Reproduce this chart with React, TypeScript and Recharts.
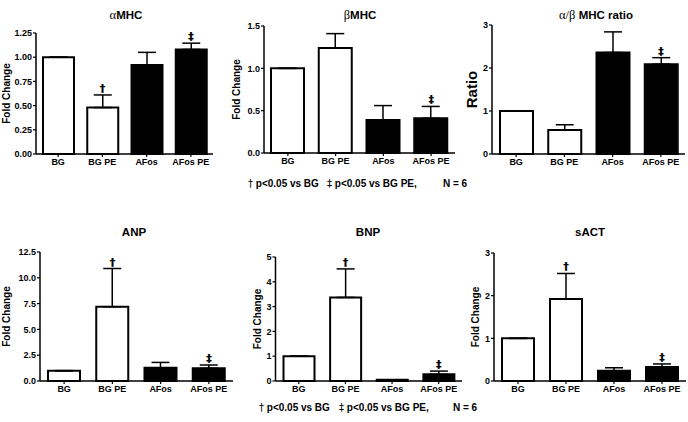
import { BarChart, Bar, XAxis, YAxis, ErrorBar, Cell, ReferenceDot } from 'recharts';
import type { ReactNode } from 'react';

const groups = ['BG', 'BG PE', 'AFos', 'AFos PE'];

const aMhcMean = [1.0, 0.48, 0.92, 1.08];
const aMhcErr = [0, 0.13, 0.13, 0.065];
const aMhcMarks = ['', '†', '', '‡'];
const aMhcTicks = [0, 0.25, 0.5, 0.75, 1.0, 1.25];

const bMhcMean = [1.0, 1.24, 0.39, 0.41];
const bMhcErr = [0, 0.17, 0.17, 0.14];
const bMhcMarks = ['', '', '', '‡'];
const bMhcTicks = [0, 0.5, 1.0, 1.5];

const ratioMean = [1.0, 0.56, 2.36, 2.09];
const ratioErr = [0, 0.12, 0.48, 0.15];
const ratioMarks = ['', '', '', '‡'];
const ratioTicks = [0, 1, 2, 3];

const anpMean = [1.0, 7.2, 1.28, 1.23];
const anpErr = [0, 3.7, 0.52, 0.32];
const anpMarks = ['', '†', '', '‡'];
const anpTicks = [0, 2.5, 5.0, 7.5, 10.0, 12.5];

const bnpMean = [1.0, 3.37, 0.05, 0.27];
const bnpErr = [0, 1.15, 0, 0.13];
const bnpMarks = ['', '†', '', '‡'];
const bnpTicks = [0, 1, 2, 3, 4, 5];

const sactMean = [1.0, 1.92, 0.24, 0.33];
const sactErr = [0, 0.6, 0.07, 0.07];
const sactMarks = ['', '†', '', '‡'];
const sactTicks = [0, 1, 2, 3];

const FONT = '"Liberation Sans", Arial, Helvetica, sans-serif';
const GREEK = '"Liberation Serif", "DejaVu Serif", serif';
const MARK_FONT = '"DejaVu Sans", "Liberation Sans", sans-serif';

interface PanelProps {
  title: ReactNode;
  titleX: number;
  titleY: number;
  mean: number[];
  err: number[];
  marks: string[];
  ticks: number[];
  decimals: number;
  yLabel: string;
  yLabelX: number;
  yLabelSize: number;
  left: number;
  plotLeft: number;
  plotRight: number;
  plotTop: number;
  plotBottom: number;
  barSize: number;
}

// significance sign drawn just above the error-bar cap
const markLabel = (text: string) => (lp: any) => {
  const vb = lp.viewBox || {};
  const cx = (vb.x ?? 0) + (vb.width ?? 0) / 2;
  const cy = vb.y ?? 0;
  return (
    <text
      x={cx}
      y={cy - 3}
      textAnchor="middle"
      fill="#000"
      stroke="#000"
      strokeWidth={0.2}
      fontSize={11}
      fontWeight={700}
      fontFamily={MARK_FONT}
    >
      {text}
    </text>
  );
};

function Panel(p: PanelProps) {
  const data = groups.map((g, i) => ({ group: g, mean: p.mean[i], err: [0, p.err[i]] }));
  const padTop = 8;
  const padBottom = 22;
  const width = p.plotRight - p.left + 2;
  const height = p.plotBottom - p.plotTop + padTop + padBottom;
  const ymax = p.ticks[p.ticks.length - 1];

  return (
    <>
      <div
        style={{
          position: 'absolute',
          left: p.titleX,
          top: p.titleY,
          transform: 'translate(-50%, -50%)',
          fontFamily: FONT,
          fontWeight: 700,
          fontSize: 11.5,
          whiteSpace: 'nowrap',
          color: '#000',
        }}
      >
        {p.title}
      </div>
      <div style={{ position: 'absolute', left: p.left, top: p.plotTop - padTop }}>
        <BarChart
          width={width}
          height={height}
          data={data}
          margin={{ top: padTop, right: 2, bottom: 0, left: 0 }}
        >
          <XAxis
            dataKey="group"
            height={padBottom}
            tickSize={3}
            tickMargin={2}
            axisLine={{ stroke: '#000', strokeWidth: 1.5 }}
            tickLine={{ stroke: '#000', strokeWidth: 1.2 }}
            tick={{ fill: '#000', fontSize: 9, fontWeight: 700, fontFamily: FONT }}
            interval={0}
          />
          <YAxis
            width={p.plotLeft - p.left}
            domain={[0, ymax]}
            ticks={p.ticks}
            tickFormatter={(v: number) => v.toFixed(p.decimals)}
            tickSize={3}
            tickMargin={1}
            axisLine={{ stroke: '#000', strokeWidth: 1.5 }}
            tickLine={{ stroke: '#000', strokeWidth: 1.2 }}
            tick={{ fill: '#000', fontSize: 9, fontWeight: 700, fontFamily: FONT }}
            label={{
              value: p.yLabel,
              angle: -90,
              position: 'insideLeft',
              offset: p.yLabelX - p.left,
              style: {
                textAnchor: 'middle',
                fontSize: p.yLabelSize,
                fontWeight: 700,
                fill: '#000',
                fontFamily: FONT,
              },
            }}
          />
          <Bar
            dataKey="mean"
            barSize={p.barSize}
            stroke="#000"
            strokeWidth={2}
            isAnimationActive={false}
          >
            {data.map((d, i) => (
              <Cell key={d.group} fill={i < 2 ? '#fff' : '#000'} />
            ))}
            <ErrorBar
              dataKey="err"
              direction="y"
              width={9}
              stroke="#000"
              strokeWidth={1.5}
              isAnimationActive={false}
            />
          </Bar>
          {p.marks.map((m, i) =>
            m ? (
              <ReferenceDot
                key={groups[i]}
                x={groups[i]}
                y={p.mean[i] + p.err[i]}
                r={0}
                fill="none"
                stroke="none"
                label={{ position: 'top', content: markLabel(m) }}
              />
            ) : null
          )}
        </BarChart>
      </div>
    </>
  );
}

function Footnote({ x, y, mark, text }: { x: number; y: number; mark?: string; text: string }) {
  return (
    <div
      style={{
        position: 'absolute',
        left: x,
        top: y,
        transform: 'translateY(-50%)',
        fontFamily: FONT,
        fontWeight: 700,
        fontSize: 10,
        whiteSpace: 'pre',
        color: '#000',
      }}
    >
      {mark ? <span style={{ fontFamily: MARK_FONT, fontWeight: 400 }}>{mark}</span> : null}
      {text}
    </div>
  );
}

export default function App() {
  return (
    <div style={{ position: 'absolute', left: 0, top: 0, width: 688, height: 422, background: '#fff', overflow: 'hidden' }}>
      <Panel
        title={<><span style={{ fontFamily: GREEK, fontWeight: 400, fontSize: 12.5 }}>α</span>MHC</>}
        titleX={126}
        titleY={15}
        mean={aMhcMean}
        err={aMhcErr}
        marks={aMhcMarks}
        ticks={aMhcTicks}
        decimals={2}
        yLabel="Fold Change"
        yLabelX={6}
        yLabelSize={10}
        left={0}
        plotLeft={36}
        plotRight={213}
        plotTop={32.5}
        plotBottom={153.5}
        barSize={31}
      />
      <Panel
        title={<><span style={{ fontFamily: GREEK, fontWeight: 400, fontSize: 12.5 }}>β</span>MHC</>}
        titleX={360}
        titleY={15}
        mean={bMhcMean}
        err={bMhcErr}
        marks={bMhcMarks}
        ticks={bMhcTicks}
        decimals={1}
        yLabel="Fold Change"
        yLabelX={236}
        yLabelSize={10}
        left={230}
        plotLeft={264}
        plotRight={455}
        plotTop={25.5}
        plotBottom={152.5}
        barSize={33}
      />
      <Panel
        title={<><span style={{ fontFamily: GREEK, fontWeight: 400, fontSize: 12.5 }}>α/β</span> MHC ratio</>}
        titleX={596}
        titleY={15}
        mean={ratioMean}
        err={ratioErr}
        marks={ratioMarks}
        ticks={ratioTicks}
        decimals={0}
        yLabel="Ratio"
        yLabelX={472}
        yLabelSize={15}
        left={460}
        plotLeft={492}
        plotRight={685}
        plotTop={25}
        plotBottom={154}
        barSize={33}
      />
      <Panel
        title="ANP"
        titleX={134}
        titleY={232}
        mean={anpMean}
        err={anpErr}
        marks={anpMarks}
        ticks={anpTicks}
        decimals={1}
        yLabel="Fold Change"
        yLabelX={6}
        yLabelSize={10}
        left={0}
        plotLeft={40}
        plotRight={233}
        plotTop={252}
        plotBottom={381}
        barSize={32}
      />
      <Panel
        title="BNP"
        titleX={368}
        titleY={232}
        mean={bnpMean}
        err={bnpErr}
        marks={bnpMarks}
        ticks={bnpTicks}
        decimals={0}
        yLabel="Fold Change"
        yLabelX={257}
        yLabelSize={10}
        left={230}
        plotLeft={275.5}
        plotRight={462}
        plotTop={257}
        plotBottom={381}
        barSize={31}
      />
      <Panel
        title="sACT"
        titleX={590}
        titleY={232}
        mean={sactMean}
        err={sactErr}
        marks={sactMarks}
        ticks={sactTicks}
        decimals={0}
        yLabel="Fold Change"
        yLabelX={475}
        yLabelSize={10}
        left={460}
        plotLeft={494}
        plotRight={686}
        plotTop={253}
        plotBottom={381}
        barSize={32}
      />
      <Footnote x={248} y={183} mark="†" text=" p<0.05 vs BG" />
      <Footnote x={327} y={183} mark="‡" text=" p<0.05 vs BG PE," />
      <Footnote x={443} y={183} text="N = 6" />
      <Footnote x={259} y={407} mark="†" text=" p<0.05 vs BG" />
      <Footnote x={339} y={407} mark="‡" text=" p<0.05 vs BG PE," />
      <Footnote x={453} y={407} text="N = 6" />
    </div>
  );
}
